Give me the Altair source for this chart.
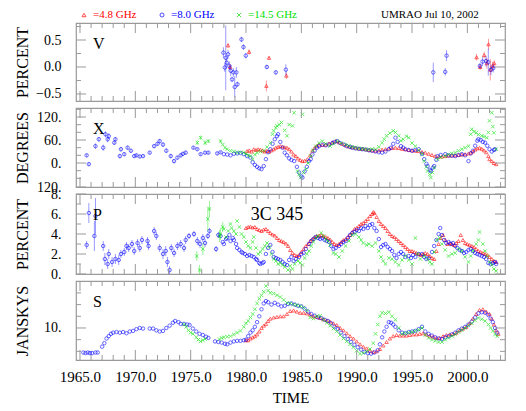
import altair as alt
import pandas as pd

# ---------------- data ----------------
FREQS = ["4.8 GHz", "8.0 GHz", "14.5 GHz"]
COLORS = ["#ff0000", "#0000ff", "#00e000"]
XPATH = "M-1,-1L1,1M1,-1L-1,1"
SHAPES = ["triangle-up", "circle", XPATH]

# V panel: circular polarisation (percent) (time, value, error)
V_RED = [(1978.38, 0.40, 0.04), (1978.56, 0.0, 0.05), (1980.28, 0.28, 0.05),
         (1981.84, -0.35, 0.1), (1982.08, 0.17, 0.03), (1983.65, -0.16, 0.06),
         (2000.83, 0.18, 0.06), (2001.16, 0.0, 0.05), (2001.52, 0.22, 0.06),
         (2001.76, 0.07, 0.1), (2001.91, 0.42, 0.1), (2002.07, -0.05, 0.2),
         (2002.28, 0.02, 0.08), (2002.43, 0.07, 0.05)]
V_BLUE = [(1977.96, 0.265, 0.1), (1978.08, -0.01, 0.08), (1978.17, 0.17, 0.6),
          (1978.26, 0.08, 0.1), (1978.38, 0.235, 0.08), (1978.50, 0.02, 0.08),
          (1978.62, -0.07, 0.1), (1978.74, -0.23, 0.05), (1978.86, -0.10, 0.08),
          (1978.98, -0.37, 0.2), (1979.13, -0.10, 0.1), (1979.23, -0.32, 0.05),
          (1979.59, 0.51, 0.05), (1979.77, 0.37, 0.05), (1979.98, 0.21, 0.05),
          (1981.88, 0.0, 0.04), (1982.69, -0.10, 0.04), (1983.60, -0.05, 0.1),
          (1996.92, -0.10, 0.18), (1998.0, -0.09, 0.07), (1998.12, 0.21, 0.1),
          (2001.13, 0.02, 0.05), (2001.37, 0.10, 0.08), (2001.68, 0.11, 0.1),
          (2001.89, 0.09, 0.25), (2002.13, -0.05, 0.1), (2002.34, -0.02, 0.08)]

# X panel: polarisation angle (degrees)
X_RED = [(1980.1, 31), (1980.3, 33), (1980.5, 30), (1980.7, 36), (1980.9, 34), (1981.1, 36),
         (1981.3, 35), (1981.5, 33), (1981.7, 30), (1981.9, 32), (1982.1, 30), (1982.3, 33),
         (1982.5, 36), (1982.7, 40), (1982.9, 42), (1983.1, 44), (1983.3, 43), (1983.5, 41),
         (1983.7, 40), (1983.9, 36), (1984.1, 30), (1984.3, 22), (1984.5, 18), (1984.7, 12),
         (1984.9, 8), (1985.1, 5), (1985.3, 6), (1985.55, 10), (1985.8, 20), (1986.0, 32),
         (1986.2, 40), (1986.4, 45), (1986.6, 48), (1986.9, 47), (1987.2, 48), (1987.5, 51),
         (1987.8, 54), (1988.1, 57), (1988.4, 54), (1988.7, 50), (1989.0, 46), (1989.3, 43),
         (1989.6, 41), (1989.9, 40), (1990.2, 38), (1990.5, 37), (1990.8, 36), (1991.1, 34),
         (1991.4, 33), (1991.7, 32), (1992.0, 33), (1992.3, 35), (1992.6, 36), (1992.9, 38),
         (1993.2, 39), (1993.5, 40), (1993.8, 39), (1994.1, 37), (1994.4, 36), (1994.7, 34),
         (1995.0, 33), (1995.3, 32), (1995.6, 31), (1995.9, 29), (1996.2, 27), (1996.5, 24),
         (1996.8, 21), (1997.1, 18), (1997.4, 17), (1997.7, 17), (1998.0, 18), (1998.3, 19),
         (1998.6, 20), (1998.9, 20), (1999.2, 21), (1999.5, 22), (1999.8, 23), (2000.1, 25),
         (2000.3, 27), (2000.5, 30), (2000.7, 35), (2000.9, 38), (2001.1, 40), (2001.3, 37),
         (2001.5, 33), (2001.7, 28), (2001.9, 18), (2002.0, 10), (2002.2, 5), (2002.4, 0),
         (2002.6, -3)]
X_BLUE = [(1965.6, 20, 5), (1965.8, -3, 5), (1966.4, 44, 7), (1966.7, 62, 6), (1967.1, 40, 8),
          (1967.3, 75, 8), (1967.5, 62, 8), (1967.6, 70, 8), (1968.1, 53, 6), (1968.2, 62, 6),
          (1968.6, 18, 6), (1968.7, 36, 6), (1969.0, 23, 5), (1969.3, 40, 5), (1969.6, 32, 5),
          (1969.9, 18, 4), (1970.1, 20, 4), (1970.4, 17, 4), (1970.7, 18, 4), (1971.3, 27, 4),
          (1971.7, 44, 5), (1972.0, 50, 5), (1972.2, 57, 6), (1972.5, 48, 6), (1972.8, 32, 6),
          (1973.2, 18, 6), (1973.5, 5, 6), (1973.8, 14, 5), (1974.1, 20, 5), (1974.3, 24, 5),
          (1974.55, 27, 5), (1975.25, 40, 4), (1975.6, 36, 4), (1975.9, 23, 4), (1976.3, 27, 4),
          (1976.6, 27, 4), (1977.4, 25, 4), (1977.7, 28, 3),
          (1978.0, 23), (1978.3, 22), (1978.6, 20), (1978.9, 24), (1979.2, 25), (1979.5, 26),
          (1979.8, 23), (1980.1, 18), (1980.4, 14), (1980.6, 2), (1980.8, -5), (1981.0, -10),
          (1981.2, -14), (1981.4, -16), (1981.6, -8), (1981.8, 10), (1982.0, 28), (1982.2, 36),
          (1982.4, 50), (1982.6, 62), (1982.8, 70), (1982.9, 75), (1983.1, 55), (1983.3, 40),
          (1983.5, 27), (1983.7, 20), (1983.9, 12), (1984.1, 8), (1984.35, 5), (1984.6, -10),
          (1984.8, -25), (1985.0, -35), (1985.1, -38), (1985.3, -22), (1985.5, -10), (1985.7, 5),
          (1985.85, 10), (1986.0, 22), (1986.2, 32), (1986.4, 40), (1986.6, 44), (1986.9, 48),
          (1987.2, 46), (1987.5, 48), (1987.8, 52), (1988.0, 55), (1988.25, 57), (1988.5, 52),
          (1988.85, 48), (1989.1, 44), (1989.4, 42), (1989.6, 40), (1989.9, 38), (1990.2, 37),
          (1990.5, 36), (1990.8, 35), (1991.1, 33), (1991.4, 32), (1991.7, 30), (1992.0, 28),
          (1992.3, 27), (1992.6, 30), (1992.9, 36), (1993.1, 40), (1993.3, 50), (1993.5, 66),
          (1993.7, 55), (1994.0, 44), (1994.2, 40), (1994.4, 36), (1994.7, 34), (1995.0, 32),
          (1995.3, 34), (1995.6, 36), (1995.9, 24), (1996.1, 10), (1996.3, -2), (1996.4, -8),
          (1996.6, -18), (1996.7, -21), (1996.9, -12), (1997.0, -8), (1997.2, 8), (1997.3, 18),
          (1997.6, 21), (1998.0, 23), (1998.3, 20), (1998.6, 19), (1998.9, 18), (1999.2, 21),
          (1999.5, 23), (1999.8, 20), (2000.1, 5), (2000.3, 25), (2000.5, 32), (2000.7, 45),
          (2000.9, 58), (2001.0, 62), (2001.2, 60), (2001.4, 55), (2001.6, 53), (2001.8, 45),
          (2002.0, 36), (2002.2, 30), (2002.4, 34), (2002.5, 36)]
X_GREEN = [(1975.6, 53, 6), (1975.9, 66, 6), (1976.3, 53, 6), (1976.6, 57, 5), (1977.7, 57, 4),
           (1977.9, 48), (1978.1, 40), (1978.3, 36), (1978.6, 32), (1978.9, 30), (1979.2, 27),
           (1979.5, 28), (1979.8, 27), (1980.0, 24), (1980.2, 20), (1980.4, 18), (1980.6, 10),
           (1980.8, 22), (1981.0, 27), (1981.3, 30), (1981.6, 32), (1981.9, 42), (1982.2, 53),
           (1982.4, 75), (1982.5, 84), (1982.7, 92), (1982.8, 97), (1983.0, 100), (1983.2, 106),
           (1983.5, 85), (1983.7, 71), (1983.9, 100), (1984.2, 97), (1984.35, 131), (1984.65, -21),
           (1984.8, -30), (1984.95, -38), (1985.1, 127), (1985.2, -25), (1985.4, -16), (1985.6, 0),
           (1985.85, 18), (1986.05, 33), (1986.3, 44), (1986.6, 52), (1986.9, 57), (1987.2, 50),
           (1987.6, 44), (1987.9, 50), (1988.25, 57), (1988.6, 52), (1989.0, 48), (1989.3, 45),
           (1989.6, 42), (1989.9, 40), (1990.2, 38), (1990.5, 37), (1990.8, 36), (1991.1, 35),
           (1991.4, 36), (1991.7, 36), (1992.0, 42), (1992.3, 53), (1992.5, 62), (1992.7, 71),
           (1993.0, 78), (1993.3, 84), (1993.5, 80), (1993.8, 71), (1994.0, 58), (1994.2, 62),
           (1994.5, 70), (1994.7, 66), (1995.0, 52), (1995.3, 44), (1995.6, 33), (1995.9, 23),
           (1996.1, 5), (1996.3, -10), (1996.4, -21), (1996.6, -30), (1996.7, -38), (1996.85, -25),
           (1997.0, -12), (1997.3, 10), (1997.6, 15), (1998.0, 18), (1998.3, 22), (1998.6, 25),
           (1998.9, 27), (1999.2, 32), (1999.5, 36), (1999.8, 40), (2000.1, 44), (2000.3, 75),
           (2000.4, 88), (2000.6, 82), (2000.8, 79), (2001.0, 74), (2001.3, 71), (2001.5, 69),
           (2001.75, 66), (2001.9, 80), (2002.0, 110), (2002.2, 131), (2002.3, 95), (2002.4, 79),
           (2002.6, 36)]

# P panel: linear polarisation (percent)
P_RED = [(1980.0, 4.6), (1980.2, 4.7), (1980.4, 4.75), (1980.6, 4.65), (1980.8, 4.7), (1981.0, 4.5),
         (1981.2, 4.4), (1981.4, 4.3), (1981.6, 4.45), (1981.8, 4.5), (1982.0, 4.3), (1982.2, 4.1),
         (1982.4, 3.95), (1982.6, 3.85), (1982.8, 3.6), (1983.0, 3.4), (1983.2, 3.3), (1983.4, 3.2),
         (1983.6, 3.05), (1983.8, 2.8), (1984.0, 2.4), (1984.2, 2.1), (1984.4, 1.9), (1984.6, 1.8),
         (1984.8, 1.9), (1985.0, 2.2), (1985.2, 2.5), (1985.4, 2.8), (1985.6, 3.0), (1985.8, 3.3),
         (1986.0, 3.5), (1986.2, 3.7), (1986.4, 3.8), (1986.6, 3.85), (1986.8, 3.9), (1987.0, 3.8),
         (1987.2, 3.7), (1987.4, 3.6), (1987.6, 3.45), (1987.8, 3.2), (1988.0, 3.0), (1988.2, 2.9),
         (1988.4, 3.0), (1988.6, 3.2), (1988.8, 3.4), (1989.0, 3.5), (1989.2, 3.7), (1989.4, 3.9),
         (1989.6, 4.2), (1989.8, 4.5), (1990.0, 4.6), (1990.2, 4.8), (1990.4, 5.0), (1990.6, 5.1),
         (1990.8, 5.3), (1991.0, 5.5), (1991.2, 5.8), (1991.4, 6.0), (1991.5, 6.2), (1991.6, 6.1),
         (1991.8, 5.7), (1992.0, 5.3), (1992.2, 5.0), (1992.4, 4.8), (1992.6, 4.6), (1992.8, 4.3),
         (1993.0, 4.0), (1993.2, 3.8), (1993.4, 3.7), (1993.6, 3.5), (1993.8, 3.3), (1994.0, 3.1),
         (1994.2, 2.9), (1994.4, 2.7), (1994.6, 2.5), (1994.8, 2.3), (1995.0, 2.3), (1995.2, 2.2),
         (1995.4, 2.1), (1995.6, 2.0), (1995.8, 1.9), (1996.0, 2.0), (1996.2, 2.1), (1996.4, 2.0),
         (1996.6, 1.8), (1996.8, 1.6), (1997.0, 1.5), (1997.2, 2.3), (1997.4, 3.0), (1997.6, 3.6),
         (1997.8, 3.9), (1998.0, 3.4), (1998.2, 3.0), (1998.4, 3.1), (1998.6, 3.0), (1998.8, 2.9),
         (1999.0, 3.1), (1999.2, 3.3), (1999.4, 3.9), (1999.6, 3.4), (1999.8, 3.1), (2000.0, 3.0),
         (2000.2, 2.9), (2000.4, 2.8), (2000.6, 2.7), (2000.8, 2.5), (2001.0, 2.3), (2001.2, 2.2),
         (2001.4, 2.1), (2001.6, 2.0), (2001.8, 1.9), (2002.0, 1.7), (2002.2, 1.5), (2002.4, 1.3),
         (2002.6, 1.2)]
P_BLUE = [(1965.6, 2.9, 0.4), (1965.8, 6.1, 1.0), (1966.3, 3.8, 1.5), (1966.4, 5.8, 1.8),
          (1967.1, 2.8, 0.5), (1967.25, 1.5, 0.6), (1967.5, 1.0, 0.5), (1967.6, 2.0, 0.5),
          (1967.9, 1.2, 0.5), (1968.2, 1.5, 0.5), (1968.5, 1.4, 0.5), (1968.7, 2.0, 0.4),
          (1969.0, 2.2, 0.4), (1969.2, 2.8, 0.4), (1969.4, 2.6, 0.4), (1969.7, 3.0, 0.4),
          (1969.9, 2.3, 0.4), (1970.2, 3.1, 0.4), (1970.4, 2.6, 0.4), (1970.6, 3.4, 0.4),
          (1971.1, 3.3, 0.4), (1971.2, 2.8, 0.4), (1971.7, 4.3, 0.4), (1971.9, 3.8, 0.4),
          (1972.2, 2.6, 0.4), (1972.5, 2.0, 0.5), (1972.75, 2.3, 0.5), (1972.9, 1.2, 0.5),
          (1973.1, 0.4, 0.4), (1973.25, 2.6, 0.4), (1973.5, 2.1, 0.4), (1973.8, 2.8, 0.4),
          (1974.1, 3.0, 0.4), (1974.4, 2.6, 0.4), (1974.55, 3.4, 0.4), (1974.85, 3.8, 0.3),
          (1975.3, 4.0, 0.3), (1975.6, 3.3, 0.4), (1975.85, 3.0, 0.4), (1976.1, 3.6, 0.4),
          (1976.3, 3.1, 0.4), (1976.55, 3.8, 0.3), (1976.7, 4.3, 0.3),
          (1977.3, 2.5, 0.3), (1977.5, 3.9, 0.3), (1977.7, 3.8), (1977.9, 3.2), (1978.0, 3.0),
          (1978.2, 3.5), (1978.3, 3.6), (1978.5, 3.9), (1978.6, 3.3), (1978.8, 3.6), (1978.9, 3.4),
          (1979.1, 3.0), (1979.2, 2.6), (1979.4, 2.4), (1979.6, 2.2), (1979.7, 2.1), (1979.9, 2.0),
          (1980.1, 1.8), (1980.3, 1.9), (1980.5, 1.8), (1980.7, 1.7), (1980.9, 1.5), (1981.0, 1.4),
          (1981.2, 1.1), (1981.3, 1.0), (1981.5, 1.1), (1981.6, 1.2), (1981.8, 2.0), (1982.0, 2.6),
          (1982.2, 2.9), (1982.4, 2.2), (1982.5, 1.7), (1982.7, 1.6), (1982.9, 1.5), (1983.1, 1.4),
          (1983.3, 1.2), (1983.5, 1.0), (1983.7, 0.9), (1983.9, 1.4), (1984.1, 1.7), (1984.3, 1.3),
          (1984.5, 1.5), (1984.8, 1.7), (1985.0, 2.0), (1985.2, 2.1), (1985.4, 2.5), (1985.7, 3.0),
          (1985.9, 3.3), (1986.1, 3.5), (1986.3, 3.7), (1986.5, 3.6), (1986.7, 3.5), (1986.9, 3.6),
          (1987.1, 3.4), (1987.3, 3.3), (1987.5, 3.2), (1987.7, 2.8), (1987.9, 2.5), (1988.1, 2.6),
          (1988.4, 2.8), (1988.6, 3.0), (1988.8, 3.2), (1989.0, 3.3), (1989.2, 3.6), (1989.4, 3.9),
          (1989.6, 4.1), (1989.8, 4.2), (1990.0, 4.4), (1990.2, 4.3), (1990.4, 4.6), (1990.6, 4.5),
          (1990.8, 4.8), (1991.0, 4.6), (1991.2, 4.9), (1991.4, 5.0), (1991.6, 4.6), (1991.8, 4.3),
          (1992.0, 3.5), (1992.2, 2.7), (1992.4, 2.9), (1992.6, 3.0), (1992.8, 2.7), (1993.0, 2.5),
          (1993.2, 2.3), (1993.4, 1.9), (1993.6, 1.6), (1993.8, 2.0), (1994.0, 2.2), (1994.2, 2.0),
          (1994.4, 1.7), (1994.7, 1.8), (1994.9, 1.6), (1995.1, 1.9), (1995.3, 1.7), (1995.6, 2.0),
          (1995.9, 2.0), (1996.1, 1.7), (1996.3, 1.5), (1996.5, 1.6), (1996.8, 2.2), (1997.0, 2.8),
          (1997.2, 3.4), (1997.4, 4.0), (1997.55, 4.6), (1997.7, 3.9), (1997.9, 3.4), (1998.1, 3.1),
          (1998.3, 3.2), (1998.5, 3.0), (1998.7, 3.1), (1998.9, 2.8), (1999.1, 2.6), (1999.3, 2.4),
          (1999.5, 2.3), (1999.7, 2.1), (1999.9, 2.2), (2000.1, 2.4), (2000.3, 2.5), (2000.5, 2.3),
          (2000.7, 2.1), (2000.9, 2.0), (2001.1, 1.9), (2001.3, 1.8), (2001.5, 1.7), (2001.7, 1.5),
          (2001.9, 1.1), (2002.1, 1.0), (2002.3, 1.1), (2002.5, 1.2), (2002.6, 1.0)]
P_GREEN = [(1975.55, 1.8, 0.5), (1975.8, 0.4, 0.5), (1976.1, 2.5, 0.6), (1976.55, 5.5, 1.2),
           (1976.7, 6.5, 0.8), (1977.6, 3.8, 0.6), (1977.7, 4.0, 0.6), (1977.9, 4.7, 0.5),
           (1978.0, 4.5), (1978.2, 3.7), (1978.4, 4.3), (1978.6, 5.0), (1978.7, 4.6), (1978.9, 4.3),
           (1979.1, 4.0), (1979.2, 5.3), (1979.4, 4.7), (1979.6, 4.0), (1979.8, 3.7), (1980.0, 3.2),
           (1980.2, 2.8), (1980.4, 2.6), (1980.6, 3.2), (1980.7, 3.7), (1980.9, 2.6), (1981.1, 2.0),
           (1981.3, 2.2), (1981.5, 2.5), (1981.7, 2.8), (1981.9, 3.1), (1982.1, 2.7), (1982.3, 2.0),
           (1982.5, 1.5), (1982.7, 1.3), (1982.9, 1.0), (1983.1, 1.1), (1983.3, 0.9), (1983.5, 0.7),
           (1983.8, 0.4), (1984.0, 0.8), (1984.2, 0.5), (1984.4, 1.0), (1984.7, 1.3), (1984.9, 1.1),
           (1985.1, 0.9), (1985.3, 1.6), (1985.5, 2.0), (1985.7, 2.3), (1985.9, 2.8), (1986.1, 3.2),
           (1986.3, 3.6), (1986.5, 3.8), (1986.8, 4.1), (1987.0, 3.8), (1987.2, 3.5), (1987.4, 3.3),
           (1987.6, 2.9), (1987.9, 2.1), (1988.1, 2.0), (1988.4, 1.7), (1988.7, 2.3), (1989.0, 2.8),
           (1989.3, 3.3), (1989.6, 3.9), (1989.9, 4.0), (1990.2, 3.7), (1990.4, 3.4), (1990.6, 3.1),
           (1990.9, 2.9), (1991.1, 3.0), (1991.4, 2.8), (1991.7, 3.1), (1992.0, 2.3), (1992.2, 1.7),
           (1992.4, 1.3), (1992.6, 1.0), (1992.9, 1.6), (1993.2, 1.5), (1993.5, 1.2), (1993.8, 0.9),
           (1994.1, 1.4), (1994.4, 1.8), (1994.7, 1.4), (1995.0, 1.0), (1995.3, 3.6), (1995.5, 2.0),
           (1995.75, 1.5), (1996.1, 1.8), (1996.4, 1.5), (1996.6, 1.2), (1996.8, 1.0), (1997.0, 2.2),
           (1997.25, 3.4), (1997.5, 3.6), (1997.7, 3.0), (1998.0, 2.4), (1998.3, 1.8), (1998.6, 2.0),
           (1998.9, 2.1), (1999.2, 2.5), (1999.5, 2.3), (1999.8, 1.7), (2000.1, 1.2), (2000.3, 1.8),
           (2000.5, 2.3), (2000.8, 3.0), (2001.0, 3.4), (2001.1, 4.2), (2001.4, 3.0), (2001.6, 2.3),
           (2001.8, 1.8), (2002.0, 1.2), (2002.2, 0.9), (2002.4, 0.5), (2002.6, 0.3)]

# S panel: total flux density (Jy)
S_RED = [(1980.0, 8.95), (1980.2, 8.95), (1980.4, 9.1), (1980.6, 9.2), (1980.8, 9.3), (1981.0, 9.45),
         (1981.2, 9.7), (1981.4, 10.0), (1981.6, 10.2), (1981.8, 10.35), (1982.0, 10.6), (1982.2, 10.8),
         (1982.5, 10.9), (1982.8, 10.95), (1983.1, 11.0), (1983.4, 11.0), (1983.7, 11.2), (1984.0, 11.45),
         (1984.3, 11.5), (1984.6, 11.4), (1984.9, 11.3), (1985.2, 11.3), (1985.5, 11.25), (1985.8, 11.15),
         (1986.1, 11.0), (1986.4, 10.95), (1986.7, 10.85), (1987.0, 10.75), (1987.3, 10.65), (1987.6, 10.55),
         (1987.9, 10.4), (1988.2, 10.25), (1988.5, 10.0), (1988.8, 9.8), (1989.1, 9.55), (1989.4, 9.3),
         (1989.7, 9.1), (1990.0, 8.85), (1990.3, 8.6), (1990.6, 8.4), (1990.9, 8.25), (1991.2, 8.05),
         (1991.5, 7.95), (1991.8, 8.0), (1992.1, 8.2), (1992.4, 8.5), (1992.7, 8.8), (1993.0, 9.1),
         (1993.3, 9.3), (1993.6, 9.4), (1993.9, 9.35), (1994.2, 9.35), (1994.5, 9.35), (1994.8, 9.4),
         (1995.1, 9.45), (1995.4, 9.45), (1995.7, 9.5), (1996.0, 9.55), (1996.3, 9.45), (1996.6, 9.35),
         (1996.9, 9.25), (1997.2, 9.15), (1997.5, 9.15), (1997.8, 9.3), (1998.1, 9.4), (1998.4, 9.45),
         (1998.7, 9.5), (1999.0, 9.6), (1999.3, 9.8), (1999.6, 9.95), (1999.9, 10.1), (2000.2, 10.4),
         (2000.5, 10.8), (2000.8, 11.2), (2001.1, 11.55), (2001.4, 11.6), (2001.7, 11.4), (2002.0, 11.2),
         (2002.2, 10.8), (2002.4, 10.3), (2002.6, 9.8), (2002.8, 9.5)]
S_BLUE = [(1965.3, 7.9), (1965.5, 7.85), (1965.7, 7.9), (1965.9, 7.85), (1966.1, 7.85), (1966.4, 7.9),
          (1966.6, 7.9), (1967.0, 8.4), (1967.2, 8.7), (1967.4, 9.1), (1967.6, 9.3), (1967.8, 9.5),
          (1968.0, 9.6), (1968.3, 9.65), (1968.6, 9.6), (1968.9, 9.65), (1969.2, 9.55), (1969.5, 9.7),
          (1969.8, 9.75), (1970.1, 9.9), (1970.4, 10.0), (1970.7, 9.95), (1971.3, 9.95), (1971.6, 9.95),
          (1971.9, 9.8), (1972.2, 9.7), (1972.5, 9.75), (1972.8, 10.0), (1973.1, 10.2), (1973.4, 10.45),
          (1973.6, 10.6), (1973.9, 10.5), (1974.1, 10.35), (1974.4, 10.35), (1974.7, 10.3), (1974.9, 10.25),
          (1975.2, 9.95), (1975.5, 9.7), (1975.8, 9.5), (1976.1, 9.4), (1976.4, 9.25), (1976.6, 9.15),
          (1977.2, 8.85), (1977.5, 8.8), (1977.8, 8.75), (1978.1, 8.65), (1978.3, 8.6), (1978.6, 8.75),
          (1978.9, 8.85), (1979.2, 8.9), (1979.5, 8.9), (1979.8, 8.95), (1980.0, 9.0), (1980.2, 9.3),
          (1980.4, 9.6), (1980.6, 9.8), (1980.8, 10.1), (1981.0, 10.5), (1981.2, 11.0), (1981.4, 11.6),
          (1981.6, 12.1), (1981.8, 12.3), (1982.0, 12.2), (1982.3, 12.0), (1982.6, 12.15), (1982.9, 12.0),
          (1983.2, 11.85), (1983.5, 11.9), (1983.8, 12.05), (1984.1, 12.1), (1984.4, 12.0), (1984.7, 11.9),
          (1985.0, 11.85), (1985.3, 11.65), (1985.6, 11.4), (1985.9, 11.2), (1986.2, 11.05), (1986.5, 10.9),
          (1986.8, 10.85), (1987.1, 10.7), (1987.4, 10.6), (1987.7, 10.4), (1988.0, 10.1), (1988.3, 9.9),
          (1988.6, 9.6), (1988.9, 9.3), (1989.2, 9.05), (1989.5, 8.8), (1989.8, 8.55), (1990.1, 8.35),
          (1990.4, 8.15), (1990.7, 7.95), (1991.0, 7.85), (1991.3, 7.8), (1991.6, 7.9), (1991.9, 8.1),
          (1992.1, 8.6), (1992.3, 9.2), (1992.5, 9.7), (1992.7, 10.1), (1992.9, 10.5), (1993.1, 10.45),
          (1993.3, 10.3), (1993.5, 10.1), (1993.8, 9.8), (1994.1, 9.6), (1994.4, 9.55), (1994.7, 9.65),
          (1995.0, 9.7), (1995.3, 9.75), (1995.6, 9.9), (1995.9, 10.1), (1996.2, 9.7), (1996.5, 9.5),
          (1996.8, 9.35), (1997.1, 9.2), (1997.4, 9.1), (1997.7, 9.05), (1998.0, 9.2), (1998.3, 9.3),
          (1998.6, 9.45), (1998.9, 9.6), (1999.2, 9.8), (1999.5, 9.95), (1999.8, 10.1), (2000.1, 10.3),
          (2000.4, 10.55), (2000.7, 10.9), (2001.0, 11.25), (2001.3, 11.35), (2001.6, 11.3), (2001.9, 11.1),
          (2002.1, 10.8), (2002.3, 10.5), (2002.5, 10.0), (2002.7, 9.6)]
S_GREEN = [(1974.4, 10.3), (1974.6, 10.1), (1974.8, 9.8), (1975.0, 9.6), (1975.2, 9.5), (1975.5, 9.2),
           (1975.7, 9.0), (1975.9, 8.85), (1976.1, 8.95), (1976.3, 9.05), (1977.6, 9.05), (1977.8, 9.15),
           (1978.0, 9.2), (1978.3, 9.25), (1978.6, 9.3), (1978.9, 9.45), (1979.2, 9.6), (1979.5, 9.75),
           (1979.8, 10.1), (1980.0, 10.4), (1980.2, 10.6), (1980.4, 10.9), (1980.6, 11.2), (1980.8, 11.6),
           (1981.0, 12.1), (1981.2, 12.5), (1981.4, 12.8), (1981.6, 13.1), (1981.8, 13.6), (1982.0, 13.2),
           (1982.2, 13.0), (1982.5, 12.95), (1982.8, 12.8), (1983.1, 12.65), (1983.4, 12.4), (1983.7, 12.15),
           (1984.0, 12.1), (1984.3, 12.0), (1984.6, 11.95), (1984.9, 11.85), (1985.2, 11.75), (1985.5, 11.5),
           (1985.8, 10.9), (1986.1, 10.8), (1986.4, 11.0), (1986.7, 11.05), (1987.0, 10.7), (1987.3, 10.45),
           (1987.6, 10.2), (1987.9, 9.95), (1988.2, 9.7), (1988.5, 9.4), (1988.8, 9.1), (1989.1, 8.85),
           (1989.4, 8.6), (1989.7, 8.35), (1990.0, 8.05), (1990.3, 7.8), (1990.6, 7.85), (1990.9, 8.0),
           (1991.2, 8.2), (1991.5, 8.7), (1991.7, 9.5), (1991.9, 10.3), (1992.1, 11.0), (1992.3, 11.3),
           (1992.6, 11.25), (1992.9, 11.35), (1993.2, 11.0), (1993.5, 10.7), (1993.8, 10.0), (1994.1, 9.5),
           (1994.4, 9.55), (1994.7, 9.6), (1995.0, 9.65), (1995.3, 9.75), (1995.6, 9.85), (1995.9, 10.0),
           (1996.2, 9.4), (1996.5, 9.15), (1996.8, 9.0), (1997.1, 8.9), (1997.4, 8.8), (1997.7, 8.8),
           (1998.0, 9.0), (1998.3, 9.15), (1998.6, 9.3), (1998.9, 9.45), (1999.2, 9.65), (1999.5, 9.8),
           (1999.8, 10.0), (2000.1, 10.2), (2000.4, 10.4), (2000.7, 10.65), (2001.0, 10.85), (2001.3, 10.75),
           (2001.6, 10.6), (2001.9, 10.3), (2002.1, 10.0), (2002.3, 9.75), (2002.5, 9.45), (2002.7, 9.3)]

YEAR_LABELS = [1965, 1970, 1975, 1980, 1985, 1990, 1995, 2000]
YEAR_MINOR = [y for y in range(1965, 2004) if y not in YEAR_LABELS]

# ---------------- styling / layout ----------------
FONT = "Liberation Serif"
GREY = "#9a9a9a"
W = 429
XSCALE = alt.Scale(domain=[1964.64, 2003.4], nice=False, zero=False)
COLOR = alt.Color("freq:N", scale=alt.Scale(domain=FREQS, range=COLORS), legend=None)
SHAPE = alt.Shape("freq:N", scale=alt.Scale(domain=FREQS, range=SHAPES), legend=None)


def frame(red, blue, green):
    rows = []
    for freq, pts in zip(FREQS, [red, blue, green]):
        for p in pts:
            e = p[2] if len(p) > 2 else 0.0
            rows.append({"t": p[0], "v": p[1], "lo": p[1] - e, "hi": p[1] + e, "e": e, "freq": freq})
    return pd.DataFrame(rows)


def panel(df, ydom, major, minor, label_expr, title, letter, h, bottom=False, extra=()):
    ysc = alt.Scale(domain=ydom, nice=False, zero=False)
    if bottom:
        xaxis = alt.Axis(values=YEAR_LABELS, format=".1f", ticks=False, domain=False, grid=False,
                         labelFontSize=15, labelPadding=9, title="TIME", titleFontSize=15,
                         titleFontWeight="normal", titlePadding=6, labelFlush=False)
        xtitle = "TIME"
    else:
        xaxis = None
        xtitle = None
    yaxis = alt.Axis(values=major, labelExpr=label_expr, ticks=False, domain=False, grid=False,
                     labelFontSize=14, labelPadding=15, title=title, titleFontSize=16,
                     titleFontWeight="normal", titlePadding=6, minExtent=40, maxExtent=40,
                     labelOverlap=False, labelFlush=False)

    def X(field):
        return alt.X(field, scale=XSCALE, axis=xaxis, title=xtitle)

    def Y(field):
        return alt.Y(field, scale=ysc, axis=yaxis, title=title)

    pts = alt.Chart(df).mark_point(filled=False, size=12, strokeWidth=1, opacity=0.6, clip=True).encode(
        x=X("t:Q"), y=Y("v:Q"), color=COLOR, shape=SHAPE)
    err = alt.Chart(df[df["e"] > 0]).mark_rule(strokeWidth=1, opacity=0.4, clip=True).encode(
        x=X("t:Q"), y=Y("lo:Q"), y2="hi:Q", color=COLOR)
    layers = [pts, err]
    for vals, ln in [(YEAR_LABELS, 10), (YEAR_MINOR, 5)]:
        base = alt.Chart(pd.DataFrame({"t": vals})).mark_rule(color=GREY, strokeWidth=1)
        layers.append(base.encode(x=X("t:Q"), y=alt.value(0), y2=alt.value(ln)))
        layers.append(base.encode(x=X("t:Q"), y=alt.value(h), y2=alt.value(h - ln)))
    for vals, ln in [(major, 10), (minor, 5)]:
        base = alt.Chart(pd.DataFrame({"v": vals})).mark_rule(color=GREY, strokeWidth=1)
        layers.append(base.encode(y=Y("v:Q"), x=alt.value(0), x2=alt.value(ln)))
        layers.append(base.encode(y=Y("v:Q"), x=alt.value(W), x2=alt.value(W - ln)))
    layers.append(alt.Chart(pd.DataFrame({"s": [letter]})).mark_text(
        fontSize=16, align="left", baseline="middle", color="black").encode(
        text="s:N", x=alt.value(17), y=alt.value(21)))
    layers.extend(extra)
    return alt.layer(*layers).properties(width=W, height=h)


one = pd.DataFrame({"k": [0]})
legend = []
for i, (sx, tx) in enumerate([(8, 17), (86, 95), (163, 172)]):
    legend.append(alt.Chart(one).mark_point(shape=SHAPES[i], filled=False, size=16, strokeWidth=1,
                                            color=COLORS[i]).encode(x=alt.value(sx), y=alt.value(-8)))
    legend.append(alt.Chart(one).mark_text(text="=" + FREQS[i], fontSize=11, align="left",
                                           baseline="middle", color=COLORS[i]).encode(
        x=alt.value(tx), y=alt.value(-8)))
legend.append(alt.Chart(one).mark_text(text="UMRAO  Jul 10, 2002", fontSize=11, align="left",
                                       baseline="middle", color="black").encode(
    x=alt.value(305), y=alt.value(-8)))

source = [alt.Chart(one).mark_text(text="3C 345", fontSize=18, align="center", baseline="middle",
                                   color="black").encode(x=alt.value(201), y=alt.value(21))]

pV = panel(frame(V_RED, V_BLUE, []), [-0.63, 0.815], [-0.5, 0.0, 0.5], [-0.25, 0.25, 0.75],
           "format(datum.value, '.1f')", "PERCENT", "V", 78, extra=legend)
pX = panel(frame(X_RED, X_BLUE, X_GREEN), [-62.6, 143.5], [-62.6, 0, 60, 120],
           [-40, -20, 20, 40, 80, 100, 140],
           "datum.value < -10 ? '120.' : format(datum.value, 'd') + '.'", "DEGREES", "X", 79)
pP = panel(frame(P_RED, P_BLUE, P_GREEN), [0, 8], [0, 2, 4, 6, 8], [1, 3, 5, 7],
           "format(datum.value, 'd') + '.'", "PERCENT", "P", 80, extra=source)
pS = panel(frame(S_RED, S_BLUE, S_GREEN), [7.26, 14.02], [10], [8, 9, 11, 12, 13],
           "format(datum.value, 'd') + '.'", "JANSKYS", "S", 79, bottom=True)

chart = alt.vconcat(pV, pX, pP, pS, spacing=7, bounds="flush").resolve_scale(
    x="independent", y="independent").properties(
    padding={"left": 5, "right": 5, "top": 0, "bottom": 5}).configure(
    font=FONT).configure_view(stroke=GREY, strokeWidth=1.2).configure_axis(
    labelColor="black", titleColor="black", labelFont=FONT, titleFont=FONT)

chart.save("out.html", embed_options={"renderer": "svg", "actions": False})
